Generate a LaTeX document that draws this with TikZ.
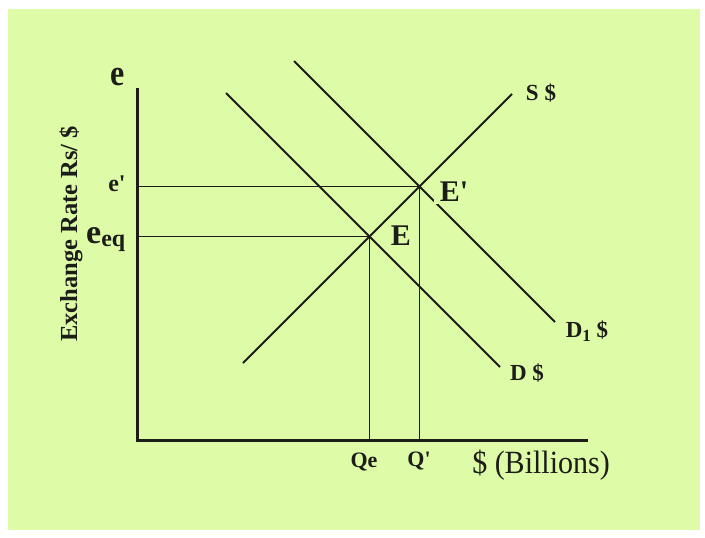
\documentclass[tikz,border=0pt]{standalone}
\usepackage{fontspec}
\setmainfont{Liberation Serif}
\usepackage{tikz}
\usetikzlibrary{positioning}
\definecolor{mybg}{RGB}{222,251,167}
\definecolor{myink}{RGB}{28,28,24}
\tikzset{
  axis/.style={line width=3pt, color=myink},
  curve/.style={line width=2pt, color=myink},
  guide/.style={line width=1.7pt, color=myink},
  tag/.style={font=\fontsize{23}{26}\selectfont\bfseries, text=myink, inner sep=0pt, anchor=base},
  pointtag/.style={font=\fontsize{30}{32}\selectfont\bfseries, text=myink, inner sep=0pt, anchor=base}
}

\begin{document}
\begin{tikzpicture}[x=1pt, y=-1pt]

  \fill[white] (0,0) rectangle (705,538);
  \fill[mybg] (8,9) rectangle (700,530);
  \useasboundingbox (0,0) rectangle (705,538);

  % axes and points
  \coordinate (O) at (137,440);
  \coordinate (ytop) at (137,88);
  \coordinate (xend) at (588,440);
  \coordinate (E) at (369.5,236.5);
  \coordinate (Ep) at (419.5,186.5);

  \coordinate (s0) at (243,363);
  \coordinate (s1) at (512,94);
  \coordinate (d0) at (226,93);
  \coordinate (d1) at (500,367);
  \coordinate (dd0) at (294,61);
  \coordinate (dd1) at (555,322);

  \draw[guide] ([xshift=2pt]O |- Ep) -- (Ep) -- (Ep |- O);
  \draw[guide] ([xshift=2pt]O |- E) -- (E) -- (E |- O);

  \draw[curve] (s0) -- (s1);
  \draw[curve] (d0) -- (d1);
  \draw[curve] (dd0) -- (dd1);

  \draw[axis] (ytop) -- (O) -- (xend);

  \node[pointtag] (Elab) at (401,245) {E};
  \node[pointtag, fill=mybg, inner sep=3pt, inner xsep=6pt] (Eplab) at (454,201) {E\textquotesingle};

  \node[tag] (Slab) at (541,100) {S \$};
  \node[tag] (Dlab) at (527,380) {D \$};
  \node[tag] (D1lab) at (587,337) {D\raisebox{-4pt}{\fontsize{17}{18}\selectfont 1} \$};

  \node[tag, font=\fontsize{32}{34}\selectfont\bfseries] (etop) at (118,85) {\scalebox{1}[1.15]{e}};
  \node[tag, font=\fontsize{24}{26}\selectfont\bfseries] (eprime) at (117,191) {e\textquotesingle};
  \node[tag, anchor=base west] (eeq) at (86,243)
    {{\fontsize{34}{36}\selectfont e}\raisebox{-3pt}{\fontsize{24}{26}\selectfont eq}};

  \node[tag, font=\fontsize{22}{24}\selectfont\bfseries] (Qe) at (364,467) {Qe};
  \node[tag, font=\fontsize{22}{24}\selectfont\bfseries] (Qp) at (419,466) {Q\textquotesingle};
  \node[tag, font=\fontsize{30}{32}\selectfont] (xlab) at (541,473) {\scalebox{1}[1.08]{\$ (Billions)}};

  \node[tag, anchor=center, rotate=90, font=\fontsize{24.5}{26}\selectfont\bfseries] (ylab) at (71,234) {Exchange Rate Rs/ \$};

\end{tikzpicture}
\end{document}
